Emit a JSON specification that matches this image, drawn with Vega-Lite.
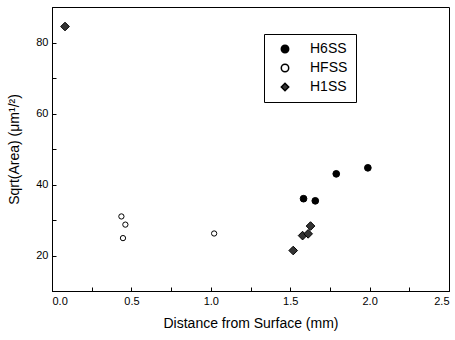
{
  "$schema": "https://vega.github.io/schema/vega-lite/v6.json",
  "width": 397,
  "height": 284,
  "autosize": {"type": "none"},
  "padding": {"left": 52, "top": 7, "right": 6, "bottom": 49},
  "background": "white",
  "config": {
    "view": {"stroke": "black", "strokeWidth": 1},
    "font": "Liberation Sans",
    "axis": {"domainColor": "black", "tickColor": "black", "labelColor": "black", "titleColor": "black", "grid": false, "labelFont": "Liberation Sans", "titleFont": "Liberation Sans", "titleFontWeight": "normal"}
  },
  "data": {
    "values": [
      {"d": 1.584, "s": 36.0, "series": "H6SS"},
      {"d": 1.658, "s": 35.4, "series": "H6SS"},
      {"d": 1.790, "s": 43.0, "series": "H6SS"},
      {"d": 1.989, "s": 44.7, "series": "H6SS"},
      {"d": 0.437, "s": 31.0, "series": "HFSS"},
      {"d": 0.462, "s": 28.7, "series": "HFSS"},
      {"d": 0.447, "s": 24.9, "series": "HFSS"},
      {"d": 1.021, "s": 26.2, "series": "HFSS"},
      {"d": 0.082, "s": 84.5, "series": "H1SS"},
      {"d": 1.519, "s": 21.4, "series": "H1SS"},
      {"d": 1.578, "s": 25.6, "series": "H1SS"},
      {"d": 1.613, "s": 26.1, "series": "H1SS"},
      {"d": 1.628, "s": 28.3, "series": "H1SS"}
    ]
  },
  "mark": {"type": "point", "filled": true, "stroke": "black", "strokeWidth": 1, "opacity": 1},
  "encoding": {
    "x": {
      "field": "d", "type": "quantitative",
      "scale": {"domain": [0, 2.5], "nice": false, "zero": false},
      "axis": {
        "title": "Distance from Surface (mm)",
        "values": [0, 0.25, 0.5, 0.75, 1, 1.25, 1.5, 1.75, 2, 2.25, 2.5],
        "labelExpr": "(round(datum.value*100) % 50 == 0) ? format(datum.value, '.1f') : ''",
        "tickSize": -4,
        "labelFontSize": 11,
        "labelPadding": 8,
        "titleFontSize": 14,
        "titlePadding": 10
      }
    },
    "y": {
      "field": "s", "type": "quantitative",
      "scale": {"domain": [10, 90], "nice": false, "zero": false},
      "axis": {
        "title": "Sqrt(Area) (μm¹/²)",
        "values": [10, 20, 30, 40, 50, 60, 70, 80, 90],
        "labelExpr": "(datum.value % 20 == 0) ? datum.label : ''",
        "tickSize": -4,
        "labelFontSize": 11,
        "labelPadding": 8,
        "titleFontSize": 14,
        "titlePadding": 14
      }
    },
    "fill": {
      "field": "series", "type": "nominal",
      "scale": {"domain": ["H6SS", "HFSS", "H1SS"], "range": ["black", "white", "#333333"]},
      "legend": {
        "title": null, "orient": "none", "legendX": 212, "legendY": 27,
        "strokeColor": "black", "fillColor": "white", "padding": 8,
        "labelFontSize": 14, "labelFont": "Liberation Sans", "labelColor": "black",
        "rowPadding": 5, "symbolOffset": 6, "labelOffset": 18, "symbolSize": 55
      }
    },
    "shape": {
      "field": "series", "type": "nominal",
      "scale": {"domain": ["H6SS", "HFSS", "H1SS"], "range": ["circle", "circle", "diamond"]}
    },
    "size": {
      "condition": [
        {"test": "datum.series == 'H1SS'", "value": 75},
        {"test": "datum.series == 'H6SS'", "value": 45}
      ],
      "value": 28
    }
  }
}
